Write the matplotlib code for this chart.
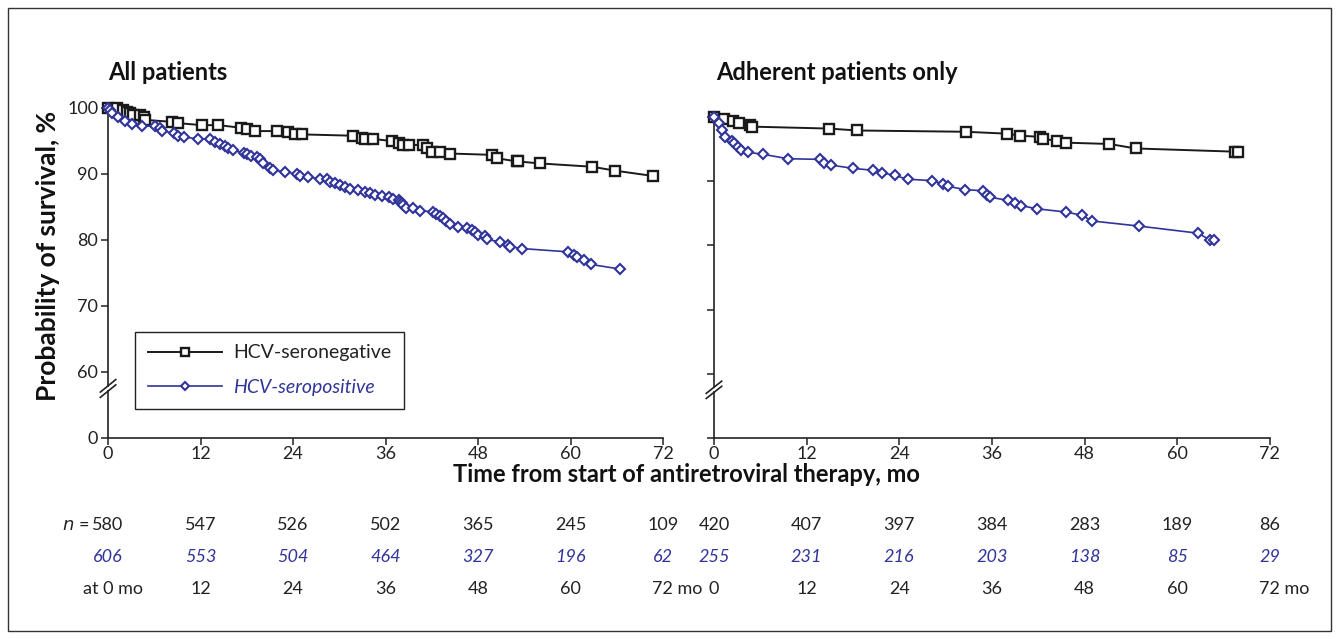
#!/usr/bin/env python

import numpy as np
import matplotlib
matplotlib.use('Agg')
import matplotlib.pyplot as plt
import matplotlib.transforms as mtransforms
from matplotlib.patches import Rectangle

plt.rcParams['font.family'] = ['Lato', 'DejaVu Sans']

blue = '#30349a'

# All patients, HCV-seronegative
neg_all_t = [0, 1.1, 2.0, 2.4, 2.9, 3.3, 4.2, 4.6, 4.8, 8.3, 9.1, 12.2, 14.3, 17.3, 18.0, 19.1,
             21.9, 23.4, 24.3, 25.1, 31.8, 32.9, 33.3, 34.4, 36.8, 37.7, 38.3, 39.0, 40.9, 41.4,
             42.0, 43.1, 44.4, 49.8, 50.4, 53.0, 53.2, 56.0, 62.8, 65.8, 70.7]
neg_all_s = [100, 100, 99.7, 99.4, 99.2, 98.9, 98.9, 98.7, 98.2, 97.9, 97.7, 97.4, 97.4, 97.0, 96.8, 96.5,
             96.5, 96.3, 96.0, 96.0, 95.8, 95.4, 95.3, 95.3, 95.0, 94.7, 94.4, 94.4, 94.4, 93.9,
             93.4, 93.4, 93.1, 92.9, 92.4, 91.9, 91.9, 91.6, 91.1, 90.5, 89.7]

# All patients, HCV-seropositive
pos_all_t = [0, 0.3, 0.5, 1.3, 2.2, 3.1, 4.4, 6.1, 6.7, 7.0, 8.6, 9.1, 9.9, 11.7, 13.2, 13.9,
             14.5, 15.2, 15.6, 16.2, 17.6, 18.0, 18.6, 19.3, 19.7, 20.1, 21.0, 21.4, 23.0, 24.5,
             24.9, 26.0, 27.5, 28.4, 28.8, 29.4, 30.1, 30.7, 31.4, 32.4, 33.3, 34.0, 34.6, 35.5,
             36.4, 37.0, 37.7, 37.9, 38.1, 38.3, 38.7, 39.6, 40.5, 42.2, 42.6, 43.1, 43.5, 43.9,
             44.4, 45.4, 46.5, 47.2, 47.6, 48.0, 48.9, 49.1, 50.9, 51.9, 52.2, 53.7, 59.7, 60.4,
             60.8, 61.8, 62.6, 66.4]
pos_all_s = [100, 99.7, 99.3, 98.7, 98.1, 97.6, 97.3, 97.2, 96.9, 96.5, 96.2, 95.8, 95.6, 95.3, 95.3, 94.9,
             94.6, 94.2, 93.9, 93.6, 93.2, 93.0, 92.7, 92.5, 92.2, 91.7, 90.9, 90.6, 90.3, 90.0,
             89.7, 89.5, 89.3, 89.2, 88.8, 88.6, 88.3, 88.1, 87.7, 87.6, 87.3, 87.1, 86.8, 86.7,
             86.5, 86.2, 86.1, 85.8, 85.6, 85.3, 84.9, 84.8, 84.4, 84.3, 84.0, 83.6, 83.4, 82.9,
             82.4, 82.0, 81.8, 81.5, 81.2, 80.8, 80.6, 80.1, 79.7, 79.2, 79.0, 78.7, 78.2, 77.7,
             77.4, 76.9, 76.3, 75.6]

# Adherent patients only, HCV-seronegative
neg_adh_t = [0, 1.3, 2.5, 3.2, 4.7, 4.9, 14.9, 18.5, 32.6, 38.0, 39.6, 42.2, 42.6, 44.4, 45.6,
             51.2, 54.6, 67.5, 67.9]
neg_adh_s = [100, 99.7, 99.4, 99.0, 98.8, 98.5, 98.2, 97.9, 97.7, 97.4, 97.1, 96.9, 96.6, 96.3, 96.0,
             95.8, 95.1, 94.6, 94.6]

# Adherent patients only, HCV-seropositive
pos_adh_t = [0, 0.6, 1.0, 1.4, 2.3, 2.6, 3.1, 3.5, 4.4, 6.3, 9.6, 13.7, 14.2, 15.2, 18.0, 20.6,
             21.8, 23.4, 25.1, 28.2, 29.6, 30.3, 32.5, 34.9, 35.3, 35.8, 38.1, 39.0, 39.8, 41.8,
             45.6, 47.6, 49.0, 55.1, 62.7, 64.3, 64.8]
pos_adh_s = [100, 99.0, 97.9, 96.9, 96.3, 96.0, 95.3, 94.9, 94.5, 94.2, 93.5, 93.4, 92.9, 92.5, 92.0, 91.7,
             91.3, 90.9, 90.3, 90.1, 89.6, 89.2, 88.7, 88.5, 87.9, 87.5, 87.0, 86.6, 86.2, 85.7,
             85.2, 84.7, 83.8, 83.0, 81.9, 80.8, 80.8]

months = [0, 12, 24, 36, 48, 60, 72]
n_neg_all = [580, 547, 526, 502, 365, 245, 109]
n_pos_all = [606, 553, 504, 464, 327, 196, 62]
n_neg_adh = [420, 407, 397, 384, 283, 189, 86]
n_pos_adh = [255, 231, 216, 203, 138, 85, 29]

yticks = [50, 60, 70, 80, 90, 100]
ytick_labels = ['0', '60', '70', '80', '90', '100']

fig = plt.figure(figsize=(13.39, 6.39), dpi=100)
fig.patches.append(Rectangle((0.006, 0.0125), 0.988, 0.975, transform=fig.transFigure,
                             fill=False, edgecolor='#333333', linewidth=1))

ax1 = fig.add_axes([0.0807, 0.3146, 0.4145, 0.5164])
ax2 = fig.add_axes([0.5332, 0.3146, 0.4152, 0.5023])


def style_axes(ax, show_labels):
    ax.set_xlim(0, 72)
    ax.set_ylim(50, 100)
    for s in ['top', 'right']:
        ax.spines[s].set_visible(False)
    for s in ['left', 'bottom']:
        ax.spines[s].set_linewidth(1.2)
        ax.spines[s].set_color('#222222')
    ax.spines['left'].set_bounds(57.9, 100)
    ax.plot([0, 0], [50, 57.1], color='#222222', lw=1.2, clip_on=False)
    for yc in [57.1, 57.9]:
        ax.plot([-1.0, 1.0], [yc - 0.95, yc + 0.95], color='#222222', lw=1.2, clip_on=False)
    ax.set_xticks(months)
    ax.set_yticks(yticks)
    if show_labels:
        ax.set_yticklabels(ytick_labels)
    else:
        ax.set_yticklabels([])
    ax.tick_params(direction='out', length=5, width=1.1, labelsize=13, colors='#222222', pad=2)
    ax.tick_params(axis='x', pad=1)


style_axes(ax1, True)
style_axes(ax2, False)

l1, = ax1.plot(neg_all_t, neg_all_s, color='#1a1a1a', lw=1.4, marker='s', ms=7.5,
               mfc='white', mec='#1a1a1a', mew=1.7, clip_on=False, zorder=3)
l2, = ax1.plot(pos_all_t, pos_all_s, color=blue, lw=1.2, marker='D', ms=5.5,
               mfc='white', mec=blue, mew=1.5, clip_on=False, zorder=3)
ax2.plot(neg_adh_t, neg_adh_s, color='#1a1a1a', lw=1.4, marker='s', ms=7.5,
         mfc='white', mec='#1a1a1a', mew=1.7, clip_on=False, zorder=3)
ax2.plot(pos_adh_t, pos_adh_s, color=blue, lw=1.2, marker='D', ms=5.5,
         mfc='white', mec=blue, mew=1.5, clip_on=False, zorder=3)

leg = ax1.legend([l1, l2], ['HCV-seronegative', 'HCV-seropositive'], loc='lower left',
                 bbox_to_anchor=(0.049, 0.089), borderaxespad=0, fontsize=14,
                 fancybox=False, edgecolor='#222222', framealpha=1, handlelength=3.8,
                 handletextpad=0.6, labelspacing=0.9, borderpad=0.65, markerscale=0.75)
leg.get_frame().set_linewidth(1.0)
leg.get_texts()[0].set_color('#222222')
leg.get_texts()[1].set_color(blue)
leg.get_texts()[1].set_style('italic')

fig.text(0.0807, 0.887, 'All patients', fontsize=17, fontweight='bold', va='center', color='#111111')
fig.text(0.5347, 0.887, 'Adherent patients only', fontsize=17, fontweight='bold', va='center', color='#111111')
fig.text(0.036, 0.6, 'Probability of survival, %', fontsize=19, fontweight='bold',
         rotation=90, ha='center', va='center', color='#111111')
fig.text(0.513, 0.257, 'Time from start of antiretroviral therapy, mo', fontsize=17,
         fontweight='bold', ha='center', va='center', color='#111111')

# numbers at risk
rows_y = [0.1784, 0.1283, 0.0782]
for ax, nn, pp in [(ax1, n_neg_all, n_pos_all), (ax2, n_neg_adh, n_pos_adh)]:
    tr = mtransforms.blended_transform_factory(ax.transData, fig.transFigure)
    for m, a, b in zip(months, nn, pp):
        ax.text(m, rows_y[0], str(a), transform=tr, ha='center', va='center',
                fontsize=13, color='#222222', clip_on=False)
        ax.text(m, rows_y[1], str(b), transform=tr, ha='center', va='center',
                fontsize=13, color=blue, style='italic', clip_on=False)
    for m in months[1:-1]:
        ax.text(m, rows_y[2], str(m), transform=tr, ha='center', va='center',
                fontsize=13, color='#222222', clip_on=False)
    ax.text(72 + 1.8, rows_y[2], '72 mo', transform=tr, ha='center', va='center',
            fontsize=13, color='#222222', clip_on=False)

tr1 = mtransforms.blended_transform_factory(ax1.transData, fig.transFigure)
tr2 = mtransforms.blended_transform_factory(ax2.transData, fig.transFigure)
ax1.text(-2.4, rows_y[0], '$n$ =', transform=tr1, ha='right', va='center',
         fontsize=13, color='#222222', clip_on=False)
ax1.text(0.7, rows_y[2], 'at 0 mo', transform=tr1, ha='center', va='center',
         fontsize=13, color='#222222', clip_on=False)
ax2.text(0, rows_y[2], '0', transform=tr2, ha='center', va='center',
         fontsize=13, color='#222222', clip_on=False)

fig.savefig('out.png', dpi=100)
